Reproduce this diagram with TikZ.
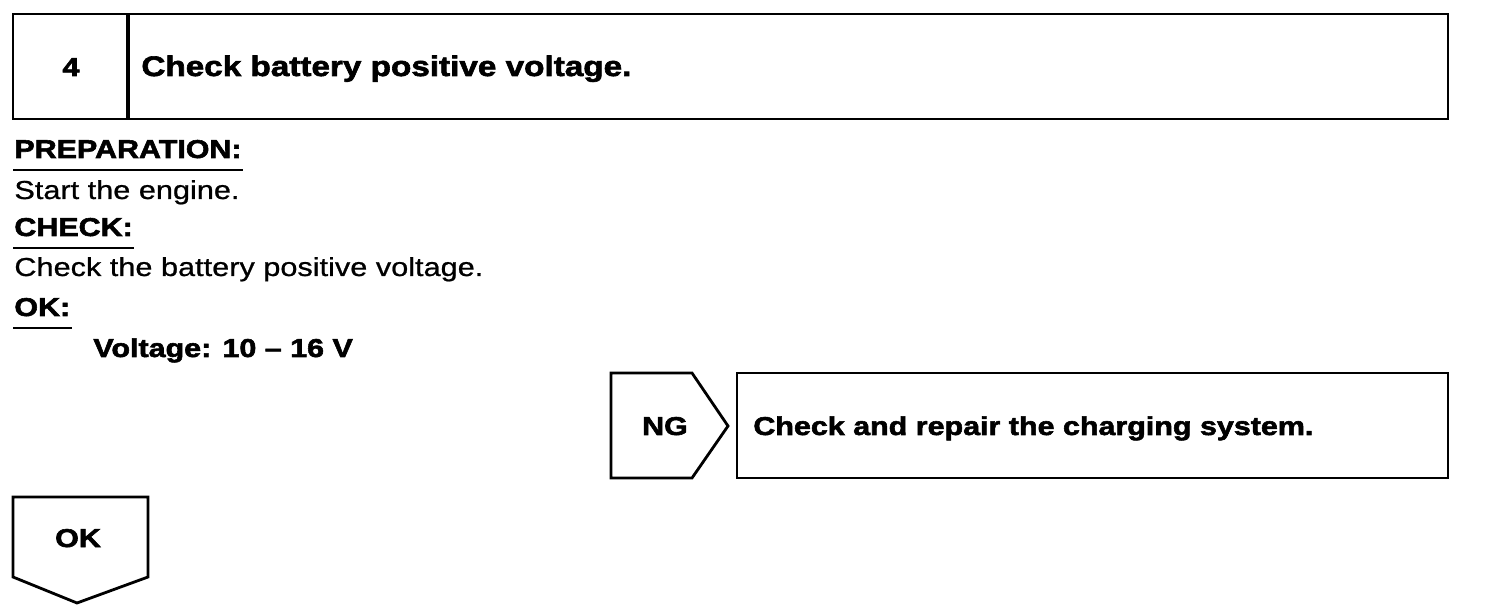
\documentclass[tikz,border=0pt]{standalone}
\usepackage{fontspec}
\setmainfont[FakeStretch=1.18, FakeBold=0.8, BoldFeatures={FakeBold=2.2}]{Liberation Sans}
\usetikzlibrary{positioning,calc}

\begin{document}
\begin{tikzpicture}[x=0.5pt, y=-0.5pt, line width=1.4pt,
  every node/.style={inner sep=0pt, anchor=base west},
  plain/.style={font=\fontsize{13}{15}\selectfont},
  label/.style={font=\fontsize{12.9}{15}\selectfont\bfseries},
  titletext/.style={font=\fontsize{14.1}{16}\selectfont\bfseries},
  uline/.style={line width=1pt}]

\useasboundingbox (0,0) rectangle (1504,614);

% step header
\draw (13,14) rectangle (1448,119);
\draw[line width=1.8pt] (128,14) -- (128,119);
\node (stepno) [label, anchor=base] at (71,76) {4};
\node (steptitle) [titletext] at (140,76) {Check battery positive voltage.};

% preparation / check / ok
\node (prep) [label] at (13,158) {PREPARATION:};
\node (prepbody) [plain] at (13,199) {Start the engine.};
\node (check) [label] at (13,236) {CHECK:};
\node (checkbody) [plain] at (13,276) {Check the battery positive voltage.};
\node (okhead) [label] at (13,316) {OK:};
\node (okspec) [label] at (92,357) {Voltage: 10 -- 16 V};

\draw[uline] ($(prep.base west)+(0,12)$) -- ($(prep.base east)+(0,12)$);
\draw[uline] ($(check.base west)+(0,12)$) -- ($(check.base east)+(0,12)$);
\draw[uline] ($(okhead.base west)+(0,12)$) -- ($(okhead.base east)+(0,12)$);

% NG branch
\draw (611,373) -- (692,373) -- (728,426) -- (692,478) -- (611,478) -- cycle;
\node (ng) [label, anchor=base] at (665,435) {NG};
\draw (737,373) rectangle (1448,478);
\node (repair) [label] at (752,435) {Check and repair the charging system.};

% OK branch
\draw (13,497) -- (148,497) -- (148,577) -- (77,603) -- (13,577) -- cycle;
\node (okbox) [label, anchor=base] at (78,547) {OK};

\end{tikzpicture}
\end{document}
